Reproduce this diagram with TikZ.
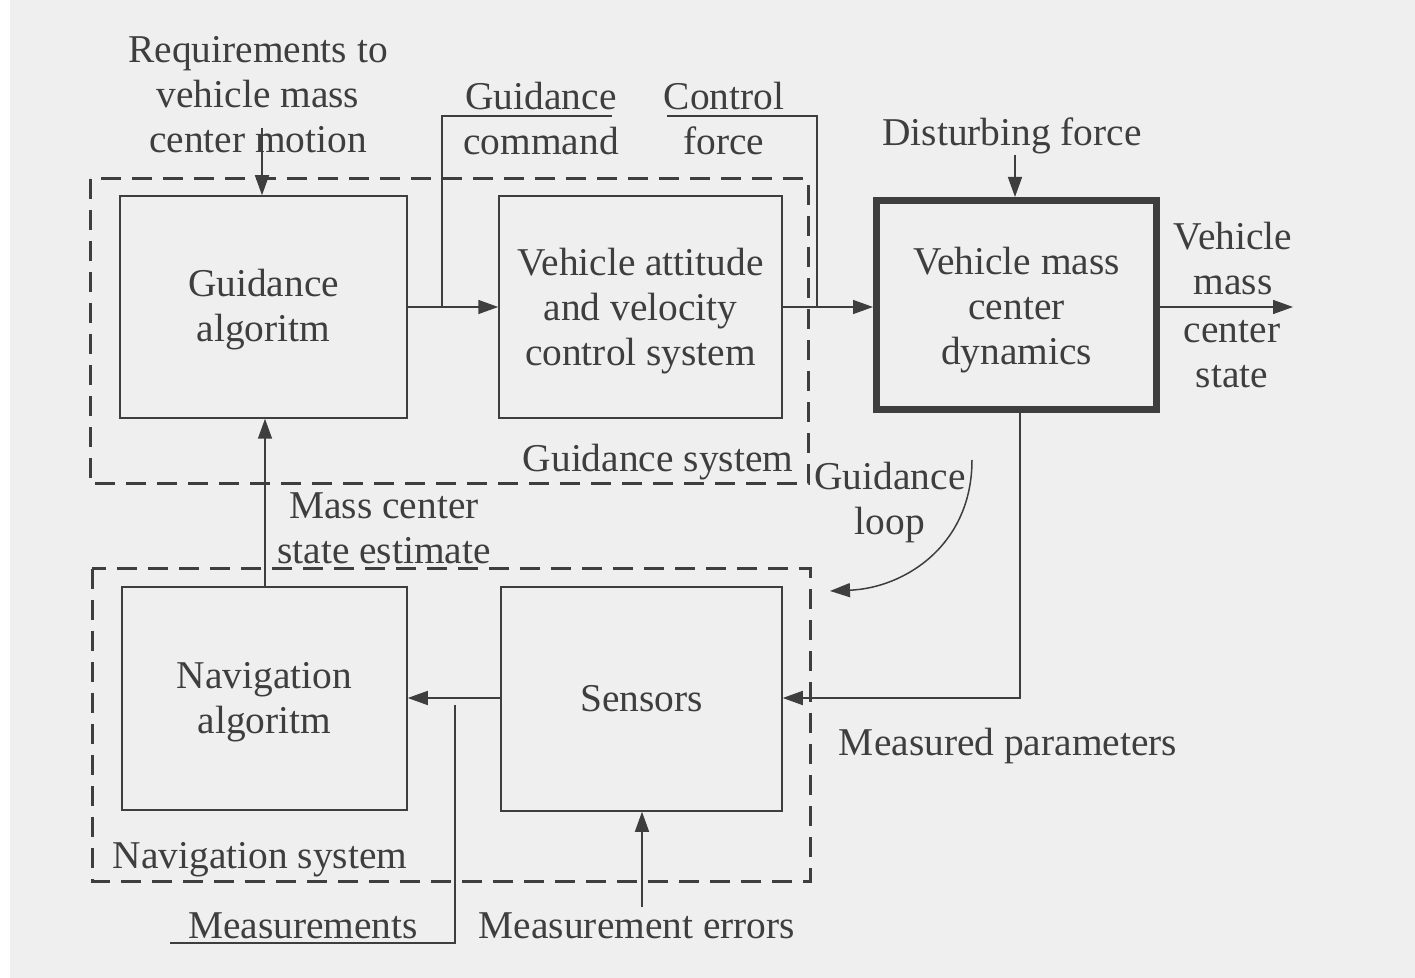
\documentclass[tikz,border=0pt]{standalone}
\usepackage{fontspec}
\setmainfont{Liberation Serif}
\usetikzlibrary{arrows.meta}
\definecolor{ink}{RGB}{62,62,62}
\definecolor{paper}{RGB}{239,239,239}
\begin{document}
\begin{tikzpicture}[x=0.5pt,y=-0.5pt,
  every node/.style={font=\fontsize{19.7}{22.5}\selectfont, text=ink, inner sep=0pt, align=center},
  blockbox/.style={draw=ink, line width=0.75pt, minimum width=#1},
  heavybox/.style={draw=ink, line width=3.5pt},
  sysframe/.style={draw=ink, line width=1.5pt, dash pattern=on 10pt off 5.5pt},
  wire/.style={draw=ink, line width=0.75pt},
  flow/.style={wire, -{Triangle[length=10pt,width=7pt]}}
]
% page
\fill[white] (0,0) rectangle (1415,978);
\fill[paper] (10,0) rectangle (1415,978);
\useasboundingbox (0,0) rectangle (1415,978);

% system frames
\draw[sysframe] (90,179) rectangle (808,484);
\draw[sysframe] (92,569) rectangle (810,881);

% blocks
\node[blockbox=143.5pt, minimum height=111pt] (ga) at (263.5,307) {};
\node[blockbox=141.5pt, minimum height=111pt] (va) at (640.5,307) {};
\node[heavybox, minimum width=140pt, minimum height=104.5pt] (md) at (1016.5,305) {};
\node[blockbox=142.5pt, minimum height=111.5pt] (na) at (264.5,698.5) {};
\node[blockbox=140.5pt, minimum height=112pt] (se) at (641.5,699) {};

% block captions
\node[yshift=-1.5pt] (gatxt) at (ga) {Guidance\\algoritm};
\node[yshift=-2pt] (vatxt) at (va) {Vehicle attitude\\and velocity\\control system};
\node[yshift=-2.5pt] (mdtxt) at (md) {Vehicle mass\\center\\dynamics};
\node[yshift=-2pt] (natxt) at (na) {Navigation\\algoritm};
\node (setxt) at (se) {Sensors};

% labels
\node (req) at (258,95) {Requirements to\\vehicle mass\\center motion};
\node (gcmd) at (541,119) {Guidance\\command};
\node (cfrc) at (724,119) {Control\\force};
\node (dist) at (1012,136) {Disturbing force};
\node (outa) at (1233,259) {Vehicle\\mass};
\node (outb) at (1232,354) {center\\state};
\node (gsys) at (658,462) {Guidance system};
\node (gloop) at (890,503) {Guidance\\loop};
\node (mcse) at (384,528) {Mass center\\state estimate};
\node (mpar) at (1008,746) {Measured parameters};
\node (nsys) at (260,860) {Navigation system};
\node (meas) at (303,926) {Measurements};
\node (merr) at (637,926) {Measurement errors};

% free ends and junctions
\coordinate (reqend) at (262,128);
\coordinate (gtap) at (442,307);
\coordinate (gtop) at (612,116);
\coordinate (ctap) at (817,307);
\coordinate (ctop) at (667,116);
\coordinate (distend) at (1015,155);
\coordinate (outend) at (1293,307);
\coordinate (mdbot) at (1020,413);
\coordinate (mturn) at (1020,698);
\coordinate (meastap) at (455,705);
\coordinate (measend) at (170,943);
\coordinate (errend) at (642,907);
\coordinate (loopstart) at (972,460);
\coordinate (looptip) at (830,591);

% connectors
\draw[flow] (reqend) -- (reqend |- ga.north);
\draw[flow] (ga.east |- gtap) -- (va.west |- gtap);
\draw[wire] (gtap) |- (gtop);
\draw[flow] (va.east |- ctap) -- (md.west |- ctap);
\draw[wire] (ctap) |- (ctop);
\draw[flow] (distend) -- (distend |- md.north);
\draw[flow] (md.east |- outend) -- (outend);
\draw[flow] (mdbot) -- (mturn) -- (se.east |- mturn);
\draw[flow] (se.west |- mturn) -- (na.east |- mturn);
\draw[wire] (meastap) |- (measend);
\draw[flow] (errend) -- (errend |- se.south);
\draw[flow] (265,0 |- na.north) -- (265,0 |- ga.south);
\draw[flow] (loopstart) .. controls (972,545) and (905,588) .. (looptip);
\end{tikzpicture}
\end{document}
